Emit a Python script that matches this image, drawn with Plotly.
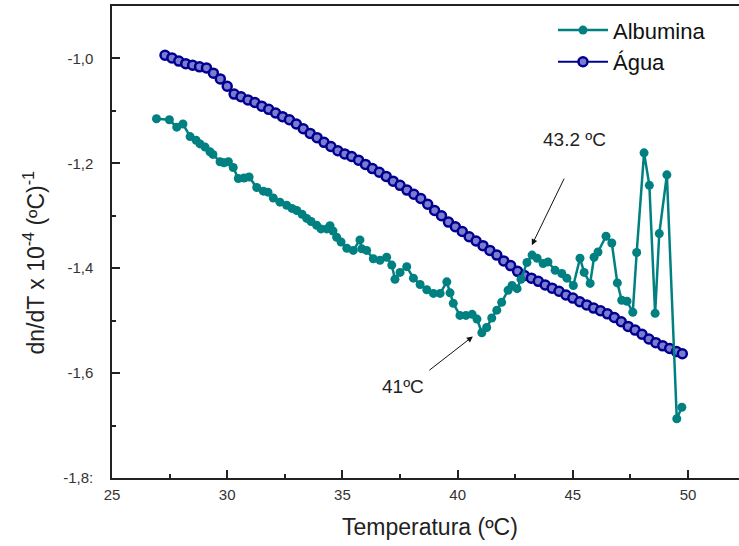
import plotly.graph_objects as go

# ---------------- data ----------------
albumina_t = [26.93, 27.49, 27.81, 28.08, 28.39, 28.65, 28.82, 29.04, 29.25, 29.38,
              29.69, 29.86, 30.05, 30.26, 30.48, 30.73, 30.95, 31.28, 31.57, 31.77,
              32.00, 32.29, 32.58, 32.81, 33.02, 33.25, 33.45, 33.64, 33.88, 34.07,
              34.32, 34.46, 34.59, 34.75, 34.94, 35.19, 35.47, 35.76, 35.84, 36.05,
              36.34, 36.63, 36.92, 37.14, 37.28, 37.50, 37.79, 38.08, 38.37, 38.66,
              38.95, 39.24, 39.53, 39.67, 39.81, 40.10, 40.36, 40.63, 40.84, 41.05,
              41.26, 41.48, 41.70, 41.91, 42.19, 42.36, 42.58, 42.75, 43.01, 43.23,
              43.45, 43.71, 43.92, 44.23, 44.52, 44.74, 45.02, 45.31, 45.49, 45.75,
              45.92, 46.09, 46.44, 46.69, 46.93, 47.12, 47.35, 47.60, 47.77, 48.09,
              48.32, 48.57, 48.75, 49.08, 49.51, 49.73]
albumina_v = [-1.115, -1.117, -1.131, -1.125, -1.149, -1.156, -1.163, -1.169, -1.178, -1.183,
              -1.197, -1.199, -1.197, -1.208, -1.229, -1.228, -1.226, -1.246, -1.253, -1.255,
              -1.266, -1.274, -1.280, -1.286, -1.290, -1.297, -1.305, -1.311, -1.318, -1.325,
              -1.325, -1.319, -1.329, -1.341, -1.350, -1.362, -1.366, -1.346, -1.363, -1.366,
              -1.382, -1.385, -1.379, -1.394, -1.421, -1.408, -1.397, -1.419, -1.431, -1.441,
              -1.448, -1.448, -1.426, -1.447, -1.467, -1.490, -1.490, -1.488, -1.497, -1.523,
              -1.513, -1.495, -1.480, -1.465, -1.442, -1.433, -1.439, -1.421, -1.389, -1.375,
              -1.381, -1.391, -1.388, -1.404, -1.410, -1.419, -1.433, -1.381, -1.408, -1.429,
              -1.379, -1.369, -1.339, -1.352, -1.428, -1.461, -1.463, -1.484, -1.370, -1.180,
              -1.242, -1.486, -1.334, -1.222, -1.687, -1.665]

agua_t = [27.3, 27.6, 27.9, 28.2, 28.5, 28.8, 29.1, 29.4, 29.7, 30.0,
          30.3, 30.6, 30.9, 31.2, 31.5, 31.8, 32.1, 32.4, 32.7, 33.0,
          33.3, 33.6, 33.9, 34.2, 34.5, 34.8, 35.1, 35.4, 35.7, 36.0,
          36.3, 36.6, 36.9, 37.2, 37.5, 37.8, 38.1, 38.4, 38.7, 39.0,
          39.3, 39.6, 39.9, 40.2, 40.5, 40.8, 41.1, 41.4, 41.7, 42.0,
          42.3, 42.6, 42.9, 43.2, 43.5, 43.8, 44.1, 44.4, 44.7, 45.0,
          45.3, 45.6, 45.9, 46.2, 46.5, 46.8, 47.1, 47.4, 47.7, 48.0,
          48.3, 48.6, 48.9, 49.2, 49.5, 49.75]
agua_v = [-0.994, -0.999, -1.005, -1.010, -1.013, -1.016, -1.018, -1.028, -1.039, -1.053,
          -1.068, -1.073, -1.079, -1.084, -1.091, -1.097, -1.104, -1.111, -1.117, -1.125,
          -1.134, -1.143, -1.151, -1.160, -1.168, -1.176, -1.182, -1.187, -1.194, -1.202,
          -1.210, -1.217, -1.225, -1.234, -1.242, -1.251, -1.259, -1.267, -1.278, -1.290,
          -1.300, -1.312, -1.321, -1.330, -1.340, -1.348, -1.357, -1.366, -1.375, -1.386,
          -1.395, -1.406, -1.414, -1.419, -1.425, -1.432, -1.438, -1.444, -1.451, -1.457,
          -1.464, -1.470, -1.476, -1.481, -1.487, -1.494, -1.502, -1.511, -1.518, -1.526,
          -1.535, -1.542, -1.548, -1.553, -1.559, -1.563]

y_tickvals = [-1.8, -1.6, -1.4, -1.2, -1.0]
y_ticktext = ["-1,8:", "-1,6", "-1,4", "-1,2", "-1,0"]
x_tickvals = [25, 30, 35, 40, 45, 50]

TEAL = "#008080"
NAVY = "#000090"
FONT = "Liberation Sans, Arial, sans-serif"

fig = go.Figure()
fig.add_trace(go.Scatter(
    x=agua_t, y=agua_v, name="Água", mode="lines+markers",
    line=dict(color=NAVY, width=2),
    marker=dict(symbol="circle", size=9, color="#7b7bd0", line=dict(color=NAVY, width=2.5)),
    legendrank=2,
))
fig.add_trace(go.Scatter(
    x=albumina_t, y=albumina_v, name="Albumina", mode="lines+markers",
    line=dict(color=TEAL, width=2.5),
    marker=dict(symbol="circle", size=9, color=TEAL),
    legendrank=1,
))

# arrows
fig.add_annotation(x=43.22, y=-1.356, ax=33, ay=-68, axref="pixel", ayref="pixel",
                   text="", showarrow=True, arrowhead=2, arrowsize=1.2, arrowwidth=1,
                   arrowcolor="#111")
fig.add_annotation(x=40.66, y=-1.530, ax=-45, ay=35, axref="pixel", ayref="pixel",
                   text="", showarrow=True, arrowhead=2, arrowsize=1.2, arrowwidth=1,
                   arrowcolor="#111")
# labels
fig.add_annotation(x=45.05, y=-1.154, text="43.2 ºC", showarrow=False,
                   font=dict(family=FONT, size=19, color="#222"))
fig.add_annotation(x=37.64, y=-1.626, text="41ºC", showarrow=False,
                   font=dict(family=FONT, size=19, color="#222"))
# axis titles
fig.add_annotation(xref="paper", yref="paper", x=0.507, y=-0.104, xanchor="center", yanchor="middle",
                   text="Temperatura (ºC)", showarrow=False,
                   font=dict(family=FONT, size=23, color="#222"))
fig.add_annotation(xref="paper", yref="paper", x=-0.124, y=0.457, xanchor="center", yanchor="middle",
                   textangle=-90, text="dn/dT x 10<sup>-4</sup> (ºC)<sup>-1</sup>", showarrow=False,
                   font=dict(family=FONT, size=23, color="#222"))

fig.update_layout(
    width=739, height=546,
    margin=dict(l=112, r=0, t=6, b=68),
    paper_bgcolor="white", plot_bgcolor="white",
    font=dict(family=FONT, color="#222"),
    showlegend=True,
    legend=dict(x=0.7033, y=0.993, xanchor="left", yanchor="top",
                bgcolor="rgba(0,0,0,0)", font=dict(family=FONT, size=22, color="#111"),
                itemwidth=50, tracegroupgap=0),
    xaxis=dict(
        range=[25, 52.21], showgrid=False, zeroline=False,
        showline=True, linecolor="#222", linewidth=1.5, mirror=True,
        ticks="inside", ticklen=8, tickwidth=1.5, tickcolor="#222",
        tickvals=x_tickvals, ticklabelstandoff=2,
        tickfont=dict(family=FONT, size=15, color="#333"),
        minor=dict(ticks="inside", ticklen=4, tickwidth=1.5, tickcolor="#222", dtick=2.5, tick0=25),
    ),
    yaxis=dict(
        range=[-1.8, -0.9], showgrid=False, zeroline=False,
        showline=True, linecolor="#222", linewidth=1.5, mirror=False,
        ticks="inside", ticklen=8, tickwidth=1.5, tickcolor="#222",
        tickvals=y_tickvals, ticktext=y_ticktext, ticklabelstandoff=14,
        tickfont=dict(family=FONT, size=15, color="#333"),
        minor=dict(ticks="inside", ticklen=4, tickwidth=1.5, tickcolor="#222", dtick=0.1, tick0=-1.8),
    ),
)

fig.write_html("out.html", config={"displayModeBar": False},
               post_script="document.body.style.margin='0px';document.body.style.padding='0px';")
